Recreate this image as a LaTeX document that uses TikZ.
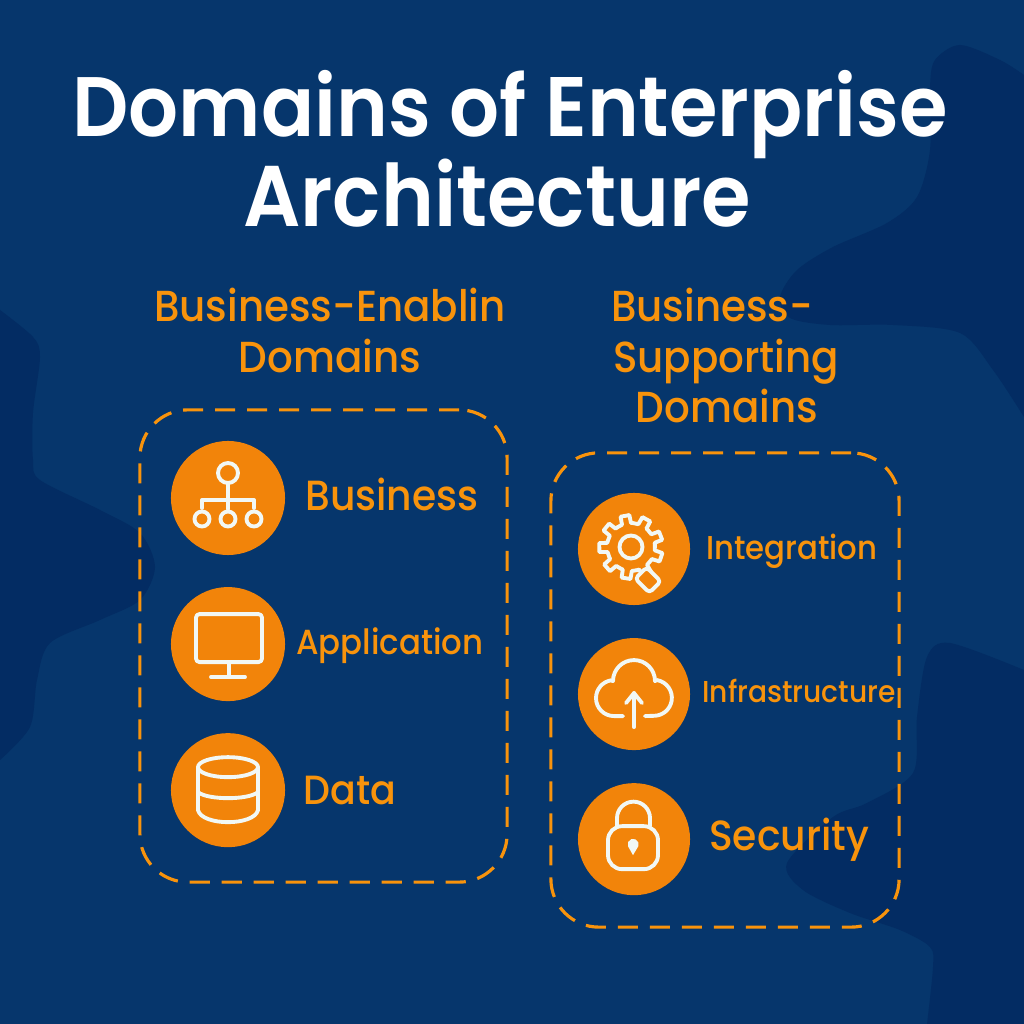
\documentclass[tikz,border=0pt]{standalone}
\usepackage{fontspec}
\setmainfont{Poppins}[UprightFont=* Medium, BoldFont=* SemiBold, FakeStretch=0.93]
\usepackage{xcolor}
\usetikzlibrary{positioning}

\definecolor{navy}{HTML}{06366C}
\definecolor{navydark}{HTML}{032C63}
\definecolor{tangerine}{HTML}{F2840A}
\definecolor{headtext}{HTML}{F8930C}
\definecolor{iconwhite}{HTML}{F2F8F5}

\tikzset{
  iconline/.style={draw=iconwhite, line width=1.1pt, line join=round, line cap=round},
  disc/.style={circle, fill=tangerine, minimum size=#1, inner sep=0pt},
  domainbox/.style={draw=headtext, line width=0.9pt, rounded corners=0.48cm,
    dash pattern=on 5.7pt off 3.4pt, minimum width=#1},
  titletext/.style={text=white, anchor=base, inner sep=0pt, font=\fontsize{#1}{30}\selectfont\bfseries},
  headtext/.style={text=headtext, anchor=base, inner sep=0pt, font=\fontsize{12.35}{14}\selectfont},
  labeltext/.style={text=headtext, anchor=base, inner sep=0pt, font=\fontsize{#1}{14}\selectfont},
  hierarchy/.pic={
    \draw[iconline] (0,25) circle (10);
    \draw[iconline] (0,15) -- (0,-11);
    \draw[iconline] (-26,-10) -- (-26,-2) -- (26,-2) -- (26,-10);
    \foreach \x in {-26,0,26} \draw[iconline] (\x,-21) circle (7.5);
  },
  monitor/.pic={
    \draw[iconline, rounded corners=1pt] (-32,30) rectangle (34,-18);
    \draw[iconline] (1,-18) -- (1,-33);
    \draw[iconline] (-17,-33) -- (17,-33);
  },
  database/.pic={
    \draw[iconline] (0,23) ellipse (30 and 10);
    \draw[iconline] (-30,23) -- (-30,-20) .. controls (-26,-36) and (26,-36) .. (30,-20) -- (30,23);
    \draw[iconline] (-30,-2) .. controls (-20,-10) and (20,-10) .. (30,-2);
  },
  gear/.pic={
    \draw[iconline] (-3,2) circle (11.5);
    \draw[iconline, shift={(-3,2)}] (6:24)
      \foreach \a in {0,40,...,320} {
        -- (\a+10:24) -- (\a+13:32) -- (\a+29:32) -- (\a+32:24) -- (\a+46:24)
      } -- cycle;
    \draw[iconline, fill=tangerine, rounded corners=1pt, rotate around={-45:(14,-31)}]
      (4,-39) rectangle (24,-23);
  },
  cloud/.pic={
    \draw[iconline] (-11,-22) -- (-20,-22) arc[start angle=270, end angle=100, radius=18]
      -- (-21,13) arc[start angle=180, end angle=0, radius=21]
      -- (23,14) arc[start angle=80, end angle=-90, radius=18] -- (11,-22);
    \draw[iconline] (0,-33) -- (0,1);
    \draw[iconline] (-8,-9) -- (0,1) -- (8,-9);
  },
  padlock/.pic={
    \draw[iconline, rounded corners=4pt] (-26,13) rectangle (24,-30);
    \draw[iconline] (-17,13) -- (-17,21) arc[start angle=180, end angle=0, radius=16.5] -- (16,13);
    \fill[iconwhite] (-1,-16) -- (-6,-7) arc[start angle=200, end angle=-20, radius=5.5] -- cycle;
  }
}

\begin{document}
\begin{tikzpicture}[x=0.01cm, y=0.01cm, node distance=1.46cm]

\useasboundingbox (0,0) rectangle (1024,1024);
\fill[navy] (0,0) rectangle (1024,1024);

% background patches
\fill[navydark] plot[smooth] coordinates {(1024,607) (993,654) (960,691) (893,699) (830,699) (790,706)
  (780,727) (797,754) (833,777) (887,801) (917,827) (930,874) (930,937) (935,964) (960,979) (1000,964) (1024,949)} -- cycle;
\fill[navydark] plot[smooth] coordinates {(0,714) (33,687) (40,667) (33,611) (33,564) (40,544) (100,514)
  (140,491) (155,457) (140,424) (100,404) (50,381) (37,344) (30,297) (0,264)} -- cycle;
\fill[navydark] plot[smooth] coordinates {(1024,354) (950,381) (927,367) (917,307) (913,251) (867,221)
  (833,207) (787,161) (803,134) (850,111) (900,94) (930,77) (933,57) (927,0)} -- (1024,0) -- cycle;

\node[titletext=24]   (TitleA) at (510,887) {Domains of Enterprise};
\node[titletext=24.5] (TitleB) at (497,797) {Architecture};

\node[headtext] (LeftHeadA)  at (330,702) {Business-Enablin};
\node[headtext] (LeftHeadB)  at (330,651) {Domains};
\node[headtext] (RightHeadA) at (712,702) {Business-};
\node[headtext] (RightHeadB) at (726,651) {Supporting};
\node[headtext] (RightHeadC) at (727,601) {Domains};

\node[domainbox=3.67cm, minimum height=4.72cm] (LeftBox)  at (323.5,378) {};
\node[domainbox=3.48cm, minimum height=4.74cm] (RightBox) at (725,334) {};

\node[disc=1.14cm] (BusinessIcon)                             at (228,526) {};
\node[disc=1.14cm] (ApplicationIcon) [below of=BusinessIcon]               {};
\node[disc=1.14cm] (DataIcon)        [below of=ApplicationIcon]            {};

\node[disc=1.12cm] (IntegrationIcon)                          at (634,475) {};
\node[disc=1.12cm, node distance=1.45cm] (InfrastructureIcon) [below of=IntegrationIcon] {};
\node[disc=1.12cm, node distance=1.45cm] (SecurityIcon)       [below of=InfrastructureIcon] {};

\pic at (BusinessIcon) {hierarchy};
\pic at (ApplicationIcon) {monitor};
\pic at (DataIcon) {database};
\pic at (IntegrationIcon) {gear};
\pic at (InfrastructureIcon) {cloud};
\pic at (SecurityIcon) {padlock};

\node[labeltext=12]   (BusinessText)       at (392,513) {Business};
\node[labeltext=9.9]  (ApplicationText)    at (390,369) {Application};
\node[labeltext=11.6] (DataText)           at (350,219) {Data};
\node[labeltext=9.4]  (IntegrationText)    at (792,464) {Integration};
\node[labeltext=8.6]  (InfrastructureText) at (799,321) {Infrastructure};
\node[labeltext=12]   (SecurityText)       at (789,173) {Security};

\end{tikzpicture}
\end{document}
